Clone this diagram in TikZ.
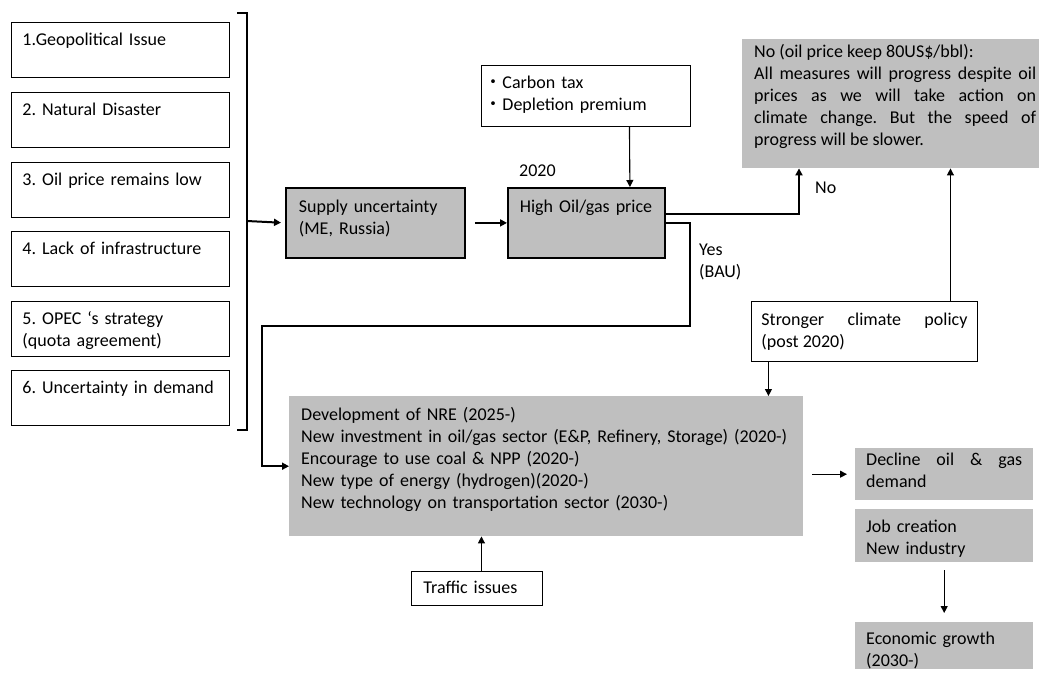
\documentclass[tikz,border=0pt]{standalone}
\usepackage{fontspec}
\setmainfont{Carlito}
\newfontfamily\cjkfont{Noto Sans CJK JP}
\usetikzlibrary{arrows.meta,calc}
\frenchspacing
\definecolor{boxgray}{RGB}{191,191,191}
\newcommand\diagfont{\fontsize{18}{22}\selectfont}
\tikzset{
  base/.style={anchor=north west, inner ysep=0pt, font=\diagfont},
  geom/.style n args={4}{inner xsep=#1, text width=#2, text height=#3, text depth=#4},
  wbox/.style={base, draw, line width=0.9pt, fill=white},
  dbox/.style={base, draw, line width=1.8pt, fill=boxgray},
  gbox/.style={base, fill=boxgray},
  thinarr/.style={line width=1.1pt, -{Triangle[length=7pt,width=7pt]}},
  thickarr/.style={line width=2pt, -{Triangle[length=7pt,width=7pt]}},
  lbl/.style={font=\diagfont, inner sep=0pt},
}
\begin{document}
\begin{tikzpicture}[x=1pt,y=-1pt]
\useasboundingbox (0,0) rectangle (1039,677);
\hyphenpenalty=10000 \exhyphenpenalty=10000
% left boxes
\node[wbox, geom={11pt}{196pt}{23pt}{32pt}, align=left] (f1) at (11,22) {1.Geopolitical Issue};
\node[wbox, geom={11pt}{196pt}{23pt}{32pt}, align=left] (f2) at (11,92) {2. Natural Disaster};
\node[wbox, geom={11pt}{196pt}{23pt}{32pt}, align=left] (f3) at (11,162) {3. Oil price remains low};
\node[wbox, geom={11pt}{196pt}{23pt}{32pt}, align=left] (f4) at (11,231) {4. Lack of infrastructure};
\node[wbox, geom={11pt}{196pt}{23pt}{32pt}, align=left] (f5) at (11,301) {5. OPEC ‘s strategy\\(quota agreement)};
\node[wbox, geom={11pt}{196pt}{23pt}{32pt}, align=left] (f6) at (11,370) {6. Uncertainty in demand};
% bracket
\draw[line width=1.5pt] (237,13) -- (247,13) -- (247,430) -- (237,430);
\coordinate (brk) at (247,221);
% main boxes
\node[dbox, geom={13pt}{153pt}{25pt}{45pt}, align=left] (supply) at (285,187) {Supply uncertainty\\(ME, Russia)};
\node[dbox, geom={12pt}{133pt}{25pt}{45pt}, align=left] (high) at (507,187) {High Oil/gas price};
\node[wbox, geom={3pt}{203pt}{23pt}{38pt}, align=left] (carbon) at (481,65) {{\cjkfont ・}Carbon tax\\{\cjkfont ・}Depletion premium};
\node[gbox, geom={12pt}{282pt}{18pt}{111pt}, align=justify] (nobox) at (742,39) {No (oil price keep 80US\$/bbl):\\All measures will progress despite oil\linebreak prices as we will take action on\linebreak climate change. But the speed of\linebreak progress will be slower.};
\node[wbox, geom={10pt}{206pt}{24pt}{36pt}, align=justify] (stronger) at (751,301) {Stronger climate policy\linebreak (post 2020)};
\node[gbox, geom={12pt}{490pt}{24pt}{116pt}, align=left] (big) at (289,396) {Development of NRE (2025-)\\New investment in oil/gas sector (E\&P, Refinery, Storage) (2020-)\\Encourage to use coal \& NPP (2020-)\\New type of energy (hydrogen)(2020-)\\New technology on transportation sector (2030-)};
\node[wbox, geom={12pt}{107pt}{22pt}{12pt}, align=left] (traffic) at (411,571) {Traffic issues};
\node[gbox, geom={11pt}{156pt}{17pt}{35pt}, align=justify] (decline) at (855,448) {Decline oil \& gas\linebreak demand};
\node[gbox, geom={11pt}{156pt}{23pt}{30pt}, align=left] (job) at (855,509) {Job creation\\New industry};
\node[gbox, geom={11pt}{156pt}{22pt}{25pt}, align=left] (econ) at (855,622) {Economic growth\\(2030-)};
% labels
\node[lbl, anchor=base west] (y2020) at (519,176) {2020};
\node[lbl, anchor=base west] (nolbl) at (815,193) {No};
\node[lbl, anchor=north west, text width=60pt, text height=22pt, text depth=22pt, align=left] (yeslbl) at (699,233) {Yes\\(BAU)};
% connectors
\draw[thickarr, shorten >=4pt] (brk) -- (supply.west);
\draw[thickarr, shorten <=9pt] (supply.east) -- (high.west);
\draw[thinarr] ([xshift=43.5pt]carbon.south) -- ([xshift=43.5pt]high.north);
\coordinate (nocorner) at ([xshift=57pt]nobox.south west);
\draw[thickarr] ([yshift=9pt]high.east) -| (nocorner);
\coordinate (yc) at (690,326);
\coordinate (yl) at (262,326);
\draw[thickarr] (high.east) -| (yc) -- (yl) |- (big.west);
\coordinate (s1) at ([xshift=86pt]stronger.north);
\draw[thinarr] (s1) -- (s1 |- nobox.south);
\coordinate (s2) at ([xshift=-96pt]stronger.south);
\draw[thinarr] (s2) -- (s2 |- big.north);
\coordinate (t1) at ([xshift=4.5pt]traffic.north);
\draw[thinarr] (t1) -- (t1 |- big.south);
\draw[thinarr, shorten <=9pt, shorten >=8pt] (big.east |- decline.west) -- (decline.west);
\draw[thinarr, shorten <=8pt, shorten >=9pt] (job.south) -- (econ.north);
\end{tikzpicture}
\end{document}
